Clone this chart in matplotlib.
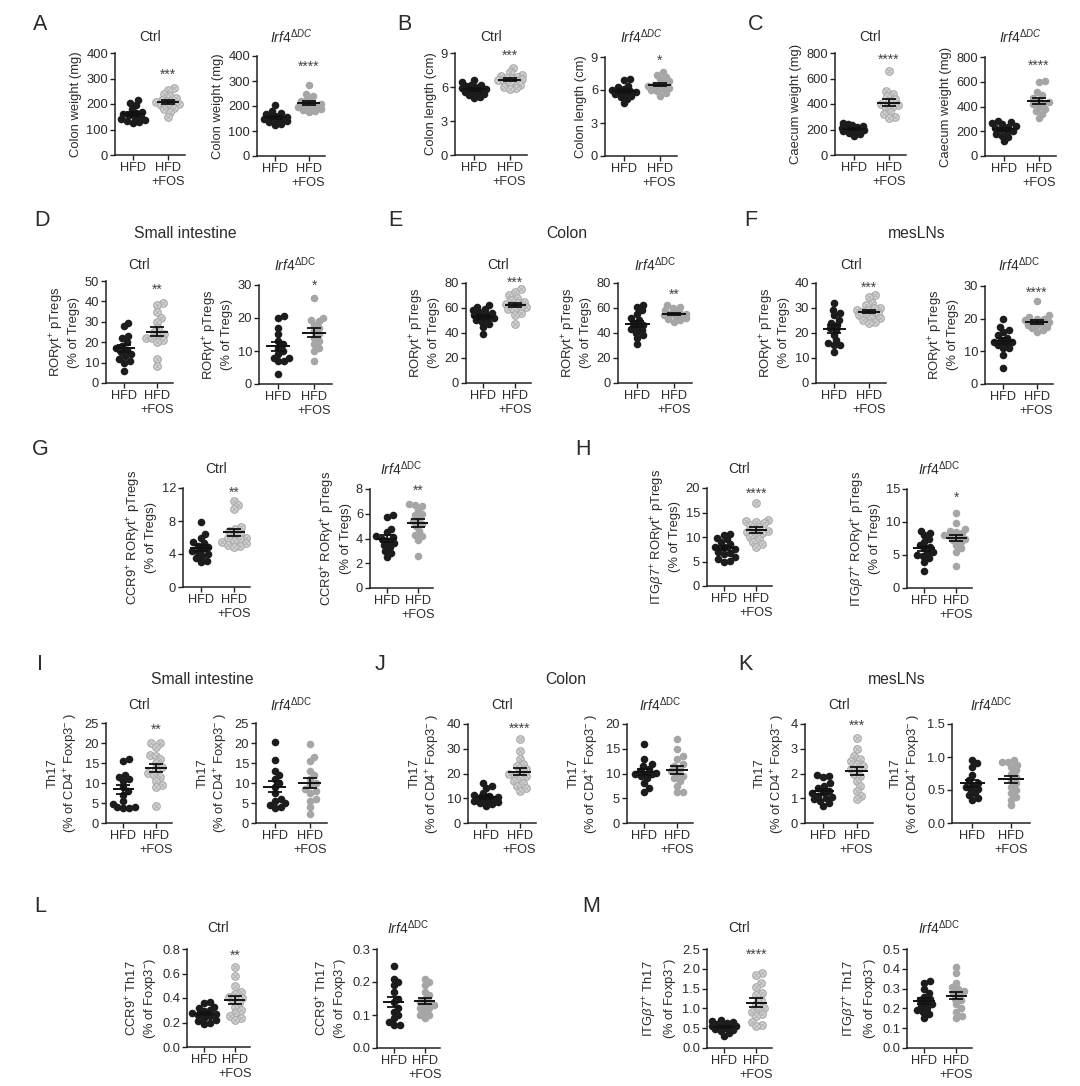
import numpy as np
import matplotlib
matplotlib.use("Agg")
import matplotlib.pyplot as plt
from matplotlib.ticker import FormatStrFormatter, MultipleLocator

plt.rcParams['font.family'] = ['Liberation Sans', 'DejaVu Sans']
plt.rcParams['mathtext.fontset'] = 'custom'
plt.rcParams['mathtext.rm'] = 'Liberation Sans'
plt.rcParams['mathtext.it'] = 'Liberation Sans:italic'
plt.rcParams['mathtext.bf'] = 'Liberation Sans:bold'
plt.rcParams['mathtext.sf'] = 'Liberation Sans'

TXT = '#2b2b2b'

# ---------------- data ----------------
groups = ["HFD", "HFD\n+FOS"]

A_ctrl_hfd = [215, 205, 195, 180, 170, 165, 160, 155, 150, 145, 140, 138, 135, 130, 125]
A_ctrl_fos = [262, 255, 240, 230, 222, 215, 212, 208, 205, 200, 198, 192, 185, 180, 170, 150]
A_irf_hfd = [205, 180, 172, 168, 162, 158, 155, 150, 148, 145, 140, 135, 130, 125]
A_irf_fos = [285, 250, 240, 230, 222, 215, 210, 205, 200, 198, 195, 190, 185, 180, 175]

B_ctrl_hfd = [6.6, 6.4, 6.2, 6.2, 6.1, 6.0, 5.9, 5.8, 5.8, 5.7, 5.6, 5.5, 5.4, 5.3, 5.1, 5.0]
B_ctrl_fos = [7.7, 7.3, 7.1, 7.0, 6.9, 6.8, 6.8, 6.7, 6.6, 6.5, 6.5, 6.4, 6.2, 6.0, 5.9, 5.8]
B_irf_hfd = [7.0, 6.9, 6.4, 6.3, 6.1, 6.0, 5.9, 5.8, 5.8, 5.7, 5.6, 5.5, 5.4, 5.2, 4.8]
B_irf_fos = [7.6, 7.4, 7.2, 7.0, 6.8, 6.6, 6.5, 6.4, 6.3, 6.2, 6.1, 6.0, 5.9, 5.7, 5.5]

C_ctrl_hfd = [250, 240, 235, 225, 220, 215, 210, 205, 200, 195, 190, 185, 175, 165, 150]
C_ctrl_fos = [655, 500, 480, 460, 440, 420, 400, 390, 380, 370, 340, 320, 300, 290]
C_irf_hfd = [280, 275, 265, 255, 245, 235, 225, 215, 205, 195, 180, 165, 150, 120]
C_irf_fos = [610, 600, 520, 490, 470, 455, 440, 430, 420, 400, 380, 360, 340, 305]

D_ctrl_hfd = [29.5, 28, 23, 22, 20, 18, 17, 16, 15, 14, 13, 12, 11, 10, 6]
D_ctrl_fos = [39, 38, 35, 32, 30, 27, 25, 24, 23, 22, 22, 21, 20, 12, 8.5]
D_irf_hfd = [20.5, 20, 17, 15, 13, 12, 11, 10, 9, 8, 8, 7, 7, 3]
D_irf_fos = [26, 20, 19.5, 19, 18, 17, 16, 15, 14, 13, 12, 11, 10, 7]

E_ctrl_hfd = [62, 61, 59, 58, 57, 56, 55, 54, 53, 52, 51, 50, 49, 47, 45, 39]
E_ctrl_fos = [75, 73, 70, 68, 66, 65, 64, 63, 62, 61, 60, 59, 58, 56, 54, 47]
E_irf_hfd = [62, 61, 58, 55, 52, 50, 48, 46, 45, 43, 42, 40, 38, 36, 31]
E_irf_fos = [62, 61, 60, 58, 57, 56, 55, 55, 54, 54, 53, 52, 51, 50, 49]

F_ctrl_hfd = [32, 29, 28, 27, 25, 24, 23, 22, 21, 19, 17, 16, 15, 15, 12.5]
F_ctrl_fos = [35, 34.5, 32, 31, 30, 30, 29, 29, 28.5, 28, 28, 27, 27, 26, 26, 25, 24.5, 24]
F_irf_hfd = [20, 17.5, 16.5, 16, 15, 14, 13.5, 13, 13, 12.5, 12, 11, 11, 9, 5]
F_irf_fos = [25.5, 21, 20.5, 20, 20, 19.5, 19, 19, 18.5, 18, 18, 17.5, 17, 16.5, 16]

G_ctrl_hfd = [7.9, 6.4, 5.9, 5.5, 5.3, 5.0, 4.8, 4.6, 4.4, 4.2, 4.0, 3.8, 3.5, 3.1, 3.0]
G_ctrl_fos = [10.4, 10.0, 9.5, 7.3, 7.0, 6.8, 6.5, 6.3, 6.0, 5.9, 5.8, 5.6, 5.4, 5.3, 5.1, 5.0, 4.8]
G_irf_hfd = [5.9, 5.7, 4.8, 4.5, 4.2, 4.1, 4.0, 3.8, 3.6, 3.5, 3.3, 3.0, 2.8, 2.5]
G_irf_fos = [6.8, 6.7, 6.6, 6.3, 6.0, 5.9, 5.6, 5.4, 5.2, 5.0, 4.6, 4.3, 4.2, 3.9, 2.6]

H_ctrl_hfd = [10.7, 10.5, 9.8, 9.5, 9.0, 8.5, 8.0, 8.0, 7.5, 7.0, 6.8, 6.5, 6.0, 5.5, 5.2, 5.0]
H_ctrl_fos = [17.0, 13.5, 13.3, 13.0, 12.8, 12.5, 12.0, 11.5, 11.3, 11.0, 10.8, 10.5, 10.0, 9.5, 9.0, 8.5, 8.0]
H_irf_hfd = [8.7, 8.3, 8.0, 7.5, 7.0, 6.5, 6.2, 6.0, 5.5, 5.3, 5.0, 4.8, 4.5, 4.0, 2.6]
H_irf_fos = [11.3, 9.8, 9.0, 8.7, 8.5, 8.3, 8.0, 7.9, 7.7, 7.5, 7.2, 7.0, 6.5, 6.0, 5.5, 3.4]

I_ctrl_hfd = [16.1, 15.5, 12.0, 11.5, 11.0, 10.5, 9.0, 8.0, 7.0, 5.5, 4.8, 4.0, 3.9, 3.8, 3.7]
I_ctrl_fos = [20.0, 19.9, 19.0, 17.0, 16.8, 16.0, 15.0, 14.0, 13.5, 12.5, 12.0, 11.5, 10.5, 9.5, 9.0, 4.3]
I_irf_hfd = [20.2, 15.7, 13.0, 12.0, 11.0, 10.0, 9.0, 7.5, 6.0, 5.5, 5.0, 4.5, 4.0, 3.8]
I_irf_fos = [19.7, 16.5, 15.5, 13.0, 12.0, 11.0, 10.0, 9.5, 8.5, 8.0, 7.5, 6.0, 5.5, 4.0, 2.3]

J_ctrl_hfd = [16, 15, 14, 12, 11.5, 11, 10.5, 10, 10, 9.5, 9, 9, 8.5, 8, 7.5, 7]
J_ctrl_fos = [34, 29, 26, 24, 23, 22, 21, 20, 19.5, 19, 18, 17, 16, 15, 14, 13]
J_irf_hfd = [16, 13, 12, 11.5, 11, 10.5, 10.2, 10, 10, 9.8, 9.5, 9, 8, 7, 6.2]
J_irf_fos = [17, 15, 13.5, 13, 12, 11.5, 11, 10.5, 10, 9.5, 9, 8.5, 7.5, 6.2, 6.2]

K_ctrl_hfd = [1.95, 1.9, 1.85, 1.6, 1.5, 1.4, 1.3, 1.25, 1.2, 1.1, 1.05, 1.0, 0.95, 0.9, 0.8, 0.7]
K_ctrl_fos = [3.45, 3.0, 2.7, 2.6, 2.5, 2.4, 2.3, 2.2, 2.15, 2.0, 1.9, 1.7, 1.5, 1.3, 1.1, 0.95]
K_irf_hfd = [0.96, 0.91, 0.85, 0.72, 0.65, 0.60, 0.58, 0.55, 0.52, 0.50, 0.45, 0.42, 0.38, 0.35]
K_irf_fos = [0.95, 0.93, 0.92, 0.88, 0.85, 0.80, 0.75, 0.70, 0.65, 0.60, 0.55, 0.50, 0.45, 0.40, 0.35, 0.27]

L_ctrl_hfd = [0.37, 0.36, 0.33, 0.32, 0.30, 0.29, 0.28, 0.27, 0.26, 0.25, 0.24, 0.22, 0.21, 0.20, 0.19]
L_ctrl_fos = [0.65, 0.58, 0.50, 0.45, 0.43, 0.41, 0.40, 0.38, 0.36, 0.33, 0.30, 0.28, 0.25, 0.24, 0.22]
L_irf_hfd = [0.25, 0.21, 0.20, 0.19, 0.17, 0.15, 0.14, 0.12, 0.11, 0.10, 0.09, 0.08, 0.07, 0.07]
L_irf_fos = [0.21, 0.20, 0.19, 0.17, 0.16, 0.15, 0.14, 0.14, 0.13, 0.13, 0.12, 0.12, 0.11, 0.10, 0.10, 0.09]

M_ctrl_hfd = [0.70, 0.68, 0.66, 0.63, 0.60, 0.58, 0.56, 0.55, 0.53, 0.51, 0.50, 0.48, 0.45, 0.42, 0.38, 0.30]
M_ctrl_fos = [1.90, 1.85, 1.65, 1.55, 1.40, 1.35, 1.20, 1.10, 1.00, 0.95, 0.90, 0.85, 0.80, 0.65, 0.58, 0.55]
M_irf_hfd = [0.34, 0.33, 0.30, 0.28, 0.26, 0.25, 0.24, 0.23, 0.22, 0.21, 0.20, 0.19, 0.18, 0.17, 0.15]
M_irf_fos = [0.41, 0.38, 0.33, 0.31, 0.30, 0.29, 0.28, 0.27, 0.25, 0.24, 0.22, 0.20, 0.18, 0.16, 0.15]

# axis maxima / tick steps
y_max = {'A1': 400, 'A2': 400, 'B1': 9, 'B2': 9, 'C1': 800, 'C2': 800,
         'D1': 50, 'D2': 30, 'E1': 80, 'E2': 80, 'F1': 40, 'F2': 30,
         'G1': 12, 'G2': 8, 'H1': 20, 'H2': 15,
         'I1': 25, 'I2': 25, 'J1': 40, 'J2': 20, 'K1': 4, 'K2': 1.5,
         'L1': 0.8, 'L2': 0.3, 'M1': 2.5, 'M2': 0.5}
y_step = {'A1': 100, 'A2': 100, 'B1': 3, 'B2': 3, 'C1': 200, 'C2': 200,
          'D1': 10, 'D2': 10, 'E1': 20, 'E2': 20, 'F1': 10, 'F2': 10,
          'G1': 4, 'G2': 2, 'H1': 5, 'H2': 5,
          'I1': 5, 'I2': 5, 'J1': 10, 'J2': 5, 'K1': 1, 'K2': 0.5,
          'L1': 0.2, 'L2': 0.1, 'M1': 0.5, 'M2': 0.1}
stars = {'A1': '***', 'A2': '****', 'B1': '***', 'B2': '*', 'C1': '****', 'C2': '****',
         'D1': '**', 'D2': '*', 'E1': '***', 'E2': '**', 'F1': '***', 'F2': '****',
         'G1': '**', 'G2': '**', 'H1': '****', 'H2': '*',
         'I1': '**', 'I2': '', 'J1': '****', 'J2': '', 'K1': '***', 'K2': '',
         'L1': '**', 'L2': '', 'M1': '****', 'M2': ''}

data = {
    'A1': (A_ctrl_hfd, A_ctrl_fos), 'A2': (A_irf_hfd, A_irf_fos),
    'B1': (B_ctrl_hfd, B_ctrl_fos), 'B2': (B_irf_hfd, B_irf_fos),
    'C1': (C_ctrl_hfd, C_ctrl_fos), 'C2': (C_irf_hfd, C_irf_fos),
    'D1': (D_ctrl_hfd, D_ctrl_fos), 'D2': (D_irf_hfd, D_irf_fos),
    'E1': (E_ctrl_hfd, E_ctrl_fos), 'E2': (E_irf_hfd, E_irf_fos),
    'F1': (F_ctrl_hfd, F_ctrl_fos), 'F2': (F_irf_hfd, F_irf_fos),
    'G1': (G_ctrl_hfd, G_ctrl_fos), 'G2': (G_irf_hfd, G_irf_fos),
    'H1': (H_ctrl_hfd, H_ctrl_fos), 'H2': (H_irf_hfd, H_irf_fos),
    'I1': (I_ctrl_hfd, I_ctrl_fos), 'I2': (I_irf_hfd, I_irf_fos),
    'J1': (J_ctrl_hfd, J_ctrl_fos), 'J2': (J_irf_hfd, J_irf_fos),
    'K1': (K_ctrl_hfd, K_ctrl_fos), 'K2': (K_irf_hfd, K_irf_fos),
    'L1': (L_ctrl_hfd, L_ctrl_fos), 'L2': (L_irf_hfd, L_irf_fos),
    'M1': (M_ctrl_hfd, M_ctrl_fos), 'M2': (M_irf_hfd, M_irf_fos),
}

ROR = r"ROR$\gamma$t$^{+}$"
ylabels = {
    'A': "Colon weight (mg)", 'B': "Colon length (cm)", 'C': "Caecum weight (mg)",
    'D': ROR + " pTregs\n(% of Tregs)", 'E': ROR + " pTregs\n(% of Tregs)",
    'F': ROR + " pTregs\n(% of Tregs)",
    'G': "CCR9$^{+}$ " + ROR + " pTregs\n(% of Tregs)",
    'H': r"ITG$\beta$7$^{+}$ " + ROR + " pTregs\n(% of Tregs)",
    'I': "Th17\n(% of CD4$^{+}$ Foxp3$^{-}$ )", 'J': "Th17\n(% of CD4$^{+}$ Foxp3$^{-}$ )",
    'K': "Th17\n(% of CD4$^{+}$ Foxp3$^{-}$ )",
    'L': "CCR9$^{+}$ Th17\n(% of Foxp3$^{-}$)", 'M': r"ITG$\beta$7$^{+}$ Th17" + "\n(% of Foxp3$^{-}$)",
}

# ---------------- layout (pixels: left, top, right, bottom) ----------------
W, H = 1080, 1086
boxes = {
    'A1': (115, 53, 185, 155), 'A2': (257, 56, 325, 156),
    'B1': (455, 53, 527, 155), 'B2': (605, 57, 677, 156),
    'C1': (835, 53, 906, 155), 'C2': (985, 57, 1056, 156),
    'D1': (106, 281, 173, 383), 'D2': (259, 285, 332, 384),
    'E1': (466, 283, 531, 383), 'E2': (618, 283, 692, 383),
    'F1': (816, 283, 886, 383), 'F2': (985, 286, 1053, 384),
    'G1': (183, 488, 250, 587), 'G2': (370, 489, 433, 588),
    'H1': (707, 488, 772, 586), 'H2': (907, 489, 972, 588),
    'I1': (106, 723, 172, 823), 'I2': (256, 723, 327, 823),
    'J1': (468, 724, 536, 823), 'J2': (627, 724, 693, 823),
    'K1': (805, 724, 873, 823), 'K2': (952, 724, 1030, 823),
    'L1': (187, 949, 250, 1047), 'L2': (377, 949, 440, 1048),
    'M1': (707, 949, 772, 1048), 'M2': (907, 949, 972, 1048),
}
title_y = {'A': 37, 'B': 37, 'C': 37, 'D': 265, 'E': 265, 'F': 265,
           'G': 469, 'H': 469, 'I': 705, 'J': 705, 'K': 705, 'L': 928, 'M': 928}
star_frac = {'A1': 0.79, 'A2': 0.89, 'B1': 0.97, 'B2': 0.96, 'C1': 0.93, 'C2': 0.91,
             'D1': 0.91, 'D2': 0.99, 'E1': 1.0, 'E2': 0.88, 'F1': 0.95, 'F2': 0.93,
             'G1': 0.95, 'G2': 0.98, 'H1': 0.94, 'H2': 0.91,
             'I1': 0.93, 'J1': 0.95, 'K1': 0.98, 'L1': 0.93, 'M1': 0.94}
letters = {'A': (40, 24), 'B': (404, 24), 'C': (756, 24), 'D': (42, 221), 'E': (395, 221),
           'F': (751, 221), 'G': (40, 450), 'H': (583, 450), 'I': (40, 664), 'J': (380, 664),
           'K': (745, 664), 'L': (40, 907), 'M': (591, 907)}
sections = [("Small intestine", 185, 233), ("Colon", 567, 233), ("mesLNs", 917, 233),
            ("Small intestine", 202, 680), ("Colon", 566, 680), ("mesLNs", 897, 680)]

fig = plt.figure(figsize=(W / 100, H / 100), dpi=100)


def swarm_offsets(ax, vals, xc, diam=5.2, step=1.5, maxoff=12.0):
    pts = ax.transData.transform(np.column_stack([np.full(len(vals), xc), vals]))
    pxu = ax.transData.transform([(1, 0)])[0][0] - ax.transData.transform([(0, 0)])[0][0]
    order = np.argsort(vals)
    placed = []
    offs = np.zeros(len(vals))
    cands = [0.0]
    j = 1
    while j * step <= maxoff:
        cands += [j * step, -j * step]
        j += 1
    for i in order:
        px, py = pts[i]
        best, bestd = 0.0, -1.0
        chosen = None
        for o in cands:
            if placed:
                d = min(np.hypot(px + o - qx, py - qy) for qx, qy in placed)
            else:
                d = 1e9
            if d >= diam:
                chosen = o
                break
            if d > bestd:
                best, bestd = o, d
        if chosen is None:
            chosen = best
        placed.append((px + chosen, py))
        offs[i] = chosen / pxu
    return xc + offs


for key, (l, t, r, b) in boxes.items():
    letter, kind = key[0], key[1]
    ax = fig.add_axes([l / W, 1 - b / H, (r - l) / W, (b - t) / H])
    ymax, ystep = y_max[key], y_step[key]
    ax.set_xlim(0.47, 2.49)
    ax.set_ylim(0, ymax)
    for s in ('top', 'right'):
        ax.spines[s].set_visible(False)
    for s in ('left', 'bottom'):
        ax.spines[s].set_color('#222222')
        ax.spines[s].set_linewidth(1.1)
    ax.tick_params(axis='both', length=3.5, width=1.0, color='#222222', labelsize=9.3,
                   labelcolor=TXT, pad=1.5)
    ax.yaxis.set_major_locator(MultipleLocator(ystep))
    if ystep < 1:
        ax.yaxis.set_major_formatter(FormatStrFormatter('%.1f'))
    else:
        ax.yaxis.set_major_formatter(FormatStrFormatter('%d'))
    ax.set_xticks([1, 2])
    ax.set_xticklabels(groups, fontsize=9.2, color=TXT, linespacing=1.2)
    ax.set_ylabel(ylabels[letter], fontsize=9.4, color=TXT, labelpad=3, linespacing=1.25)

    hfd, fos = data[key]
    hfd = np.asarray(hfd, float)
    fos = np.asarray(fos, float)
    x_h = swarm_offsets(ax, hfd, 1)
    x_f = swarm_offsets(ax, fos, 2)
    ax.scatter(x_h, hfd, s=30, color='#1c1c1c', linewidths=0, clip_on=False, zorder=3)
    if kind == '1':
        ax.scatter(x_f, fos, s=30, facecolor='#d6d6d6', edgecolor='#a9a9a9', linewidths=0.8,
                   clip_on=False, zorder=3)
        ax.scatter(x_f, fos, s=10, marker='x', color='#b0b0b0', linewidths=0.7,
                   clip_on=False, zorder=3)
    else:
        ax.scatter(x_f, fos, s=30, color='#a6a6a6', linewidths=0, clip_on=False, zorder=3)

    for xc, v in ((1, hfd), (2, fos)):
        m = v.mean()
        sem = v.std(ddof=1) / np.sqrt(len(v))
        ax.plot([xc - 0.33, xc + 0.33], [m, m], color='#111111', lw=1.4, zorder=4,
                solid_capstyle='butt')
        ax.errorbar([xc], [m], yerr=[sem], fmt='none', ecolor='#111111', elinewidth=1.3,
                    capsize=5, capthick=1.3, zorder=4)

    if stars[key]:
        ax.text(2, star_frac[key] * ymax, stars[key], ha='center', va='center',
                fontsize=10, color='#444444')

    # titles
    cx = (l + r) / 2 / W
    ty = 1 - title_y[letter] / H
    if kind == '1':
        fig.text(cx, ty, "Ctrl", ha='center', va='center', fontsize=10, color=TXT)
    else:
        if letter in 'ABC':
            lab = r"$\mathit{Irf4}^{\mathit{\Delta DC}}$"
        else:
            lab = r"$\mathit{Irf4}^{\Delta\mathrm{DC}}$"
        fig.text(cx, ty, lab, ha='center', va='center', fontsize=10, color=TXT)

for L, (x, y) in letters.items():
    fig.text(x / W, 1 - y / H, L, ha='center', va='center', fontsize=15.5, color=TXT)
for name, x, y in sections:
    fig.text(x / W, 1 - y / H, name, ha='center', va='center', fontsize=11.3, color=TXT)

fig.savefig("out.png", dpi=100, facecolor='white')
